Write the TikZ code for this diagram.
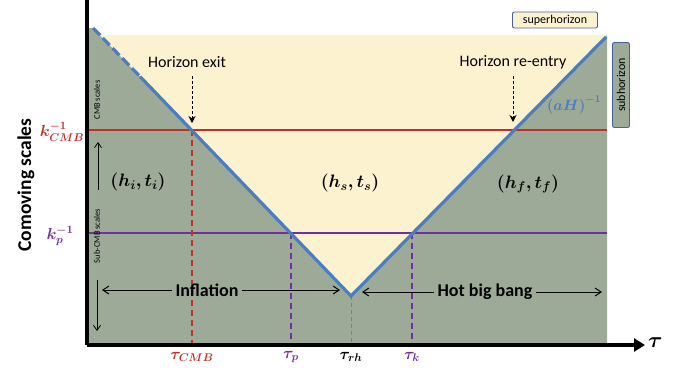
\documentclass[tikz,border=0pt]{standalone}
\usepackage{fix-cm}
\usepackage{amsmath,bm}
\usepackage{fontspec}
\setmainfont{Carlito}
\usetikzlibrary{arrows.meta}
\definecolor{cgreen}{RGB}{157,170,152}
\definecolor{cyellow}{RGB}{253,242,208}
\definecolor{cblue}{RGB}{74,126,193}
\definecolor{cred}{RGB}{192,48,43}
\definecolor{cpurple}{RGB}{112,48,160}
\definecolor{cbox}{RGB}{68,100,160}
\tikzset{
  fs/.style={font=\fontsize{#1}{#1}\selectfont},
  bfs/.style={font=\fontsize{#1}{#1}\selectfont\bfseries},
  hline/.style={line width=1.3pt},
  vdash/.style={line width=1.5pt, dash pattern=on 6pt off 4pt},
  horline/.style={cblue, line width=3.2pt},
  thinarrow/.style={line width=0.8pt, -{Straight Barb[length=5pt,width=7pt]}},
  erarrow/.style={line width=1pt, -{Straight Barb[length=6pt,width=8pt]}},
  mlabel/.style={fs=16, inner sep=1pt},
  tag/.style={draw=cbox, line width=0.9pt, rounded corners=2pt, inner sep=0pt},
}
\begin{document}
\begin{tikzpicture}[x=1pt,y=-1pt]
\useasboundingbox (0,0) rectangle (693,373);
% key points
\coordinate (tl) at (93,28);
\coordinate (dend) at (140,76.5);
\coordinate (v) at (351,296);
\coordinate (tr) at (606,37);
\coordinate (rl) at (89,130);
\coordinate (rr) at (607,130);
\coordinate (pl) at (89,233);
\coordinate (pr) at (607,233);
\coordinate (xa) at (192,130);
\coordinate (xb) at (513,130);
\coordinate (pa) at (291,233);
\coordinate (pb) at (412,233);
\coordinate (ba) at (192,345);
\coordinate (bp) at (291,345);
\coordinate (brh) at (351,345);
\coordinate (bk) at (412,345);
% regions
\fill[cgreen] (89,28) -- (95,28) -- (102,35) -- (607,35) -- (607,345) -- (89,345) -- cycle;
\fill[cyellow] (100,35) -- (v) -- (607,35) -- cycle;
% horizontal scales
\draw[hline, cred] (rl) -- (rr);
\draw[hline, cpurple] (pl) -- (pr);
% vertical dashed
\draw[vdash, cred] (xa) -- (ba);
\draw[vdash, cpurple] (pa) -- (bp);
\draw[vdash, cpurple] (pb) -- (bk);
\draw[line width=0.8pt, gray, dash pattern=on 4pt off 3pt] (v) -- (brh);
% horizon line
\draw[horline, dash pattern=on 10pt off 4pt] (tl) -- (dend);
\draw[horline, line join=miter] (dend) -- (v) -- (tr);
% axes
\coordinate (o) at (87,345);
\coordinate (xe) at (645,345);
\coordinate (ye) at (87,0);
\draw[line width=3.5pt] (ye) -- (o);
\draw[line width=3.2pt, -{Triangle[length=11pt,width=13pt]}] (o) -- (xe);
\node[fs=22, anchor=west, inner sep=0pt] (tau) at (648,343) {$\bm{\tau}$};
% axis labels
\node[bfs=19.5, rotate=90] (ylab) at (26,185) {Comoving scales};
\node[mlabel, cred] (kcmb) at (62,132) {$\bm{k_{CMB}^{-1}}$};
\node[mlabel, cpurple] (kp) at (60,236) {$\bm{k_{p}^{-1}}$};
\node[mlabel, cred] (tcmb) at (192,357) {$\bm{\tau_{CMB}}$};
\node[mlabel, cpurple] (tp) at (291,357) {$\bm{\tau_{p}}$};
\node[mlabel] (trh) at (351,357) {$\bm{\tau_{rh}}$};
\node[mlabel, cpurple] (tk) at (412,357) {$\bm{\tau_{k}}$};
% region labels
\node[fs=18, inner sep=1pt] (hi) at (138,182) {$\bm{(h_i,t_i)}$};
\node[fs=18, inner sep=1pt] (hs) at (350,183) {$\bm{(h_s,t_s)}$};
\node[fs=18, inner sep=1pt] (hf) at (528,184) {$\bm{(h_f,t_f)}$};
\node[fs=15, cblue] (aH) at (574,105) {$\bm{(aH)^{-1}}$};
% horizon exit / re-entry
\node[fs=16] (hexit) at (187,62) {Horizon exit};
\node[fs=16] (hre) at (513,62) {Horizon re-entry};
\coordinate (ea) at (192,76);
\coordinate (eb) at (192,123);
\coordinate (ra) at (513,76);
\coordinate (rb) at (513,122);
\draw[line width=1pt, dash pattern=on 3pt off 2pt, -{Stealth[length=7pt,width=7pt]}] (ea) -- (eb);
\draw[line width=1pt, dash pattern=on 3pt off 2pt, -{Stealth[length=7pt,width=7pt]}] (ra) -- (rb);
% scales
\node[fs=8.5, rotate=90] (cmbs) at (97,100) {CMB scales};
\node[fs=8.5, rotate=90] (subs) at (97,236) {Sub-CMB scales};
\coordinate (ua) at (98,190);
\coordinate (ub) at (98,142);
\coordinate (da) at (97,280);
\coordinate (db) at (97,331);
\draw[thinarrow] (ua) -- (ub);
\draw[thinarrow] (da) -- (db);
% eras
\node[bfs=18] (infl) at (207,290) {Inflation};
\coordinate (il) at (102,290);
\coordinate (ir) at (340,290);
\draw[erarrow] (infl.west) -- (il);
\draw[erarrow] (infl.east) -- (ir);
\node[bfs=18] (hbb) at (485,292) {Hot big bang};
\coordinate (hl) at (362,292);
\coordinate (hr) at (602,292);
\draw[erarrow] (hbb.west) -- (hl);
\draw[erarrow] (hbb.east) -- (hr);
% tags
\node[tag, fill=cyellow, minimum width=85pt, minimum height=16pt, fs=12] (sup) at (555,20) {superhorizon};
\node[tag, fill=cgreen, minimum width=17pt, minimum height=85pt] (sub) at (621,85) {};
\node[fs=12, rotate=90] (subt) at (sub.center) {subhorizon};
\end{tikzpicture}
\end{document}
